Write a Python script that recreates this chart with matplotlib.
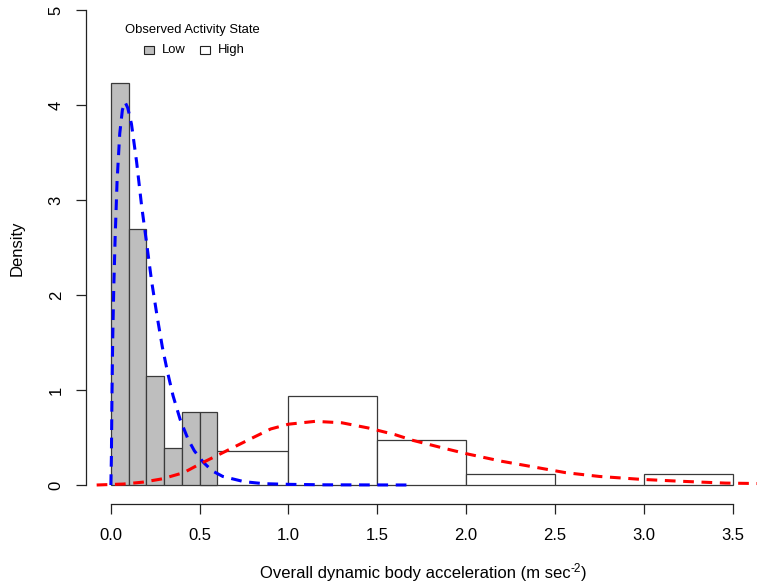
import matplotlib
matplotlib.use("Agg")
import matplotlib.pyplot as plt
from matplotlib.patches import Rectangle

plt.rcParams['font.family'] = ['Liberation Sans', 'DejaVu Sans']

# Histogram data (bin edges and densities)
low_edges = [0.0, 0.1, 0.2, 0.3, 0.4, 0.5, 0.6]
low_density = [4.23, 2.69, 1.15, 0.385, 0.77, 0.77]
high_edges = [0.5, 1.0, 1.5, 2.0, 2.5, 3.0, 3.5]
high_density = [0.353, 0.941, 0.47, 0.118, 0.0, 0.118]

# Fitted density curves
blue_x = [0.0, 0.003, 0.006, 0.010, 0.016, 0.024, 0.035, 0.05, 0.065, 0.08, 0.095,
          0.116, 0.145, 0.173, 0.201, 0.229, 0.26, 0.29, 0.32, 0.35, 0.39, 0.435,
          0.47, 0.52, 0.57, 0.63, 0.75, 0.86, 1.0, 1.2, 1.45, 1.69]
blue_y = [0.0, 0.3, 0.9, 1.5, 2.05, 2.6, 3.2, 3.7, 3.95, 4.03, 3.97,
          3.80, 3.40, 2.94, 2.55, 2.15, 1.78, 1.45, 1.18, 0.94, 0.69, 0.48,
          0.36, 0.24, 0.15, 0.09, 0.035, 0.014, 0.007, 0.002, 0.001, 0.0]
red_x = [-0.08, 0.07, 0.18, 0.29, 0.41, 0.5, 0.63, 0.78, 0.9, 1.0, 1.15, 1.3,
         1.45, 1.6, 1.7, 1.89, 2.0, 2.2, 2.38, 2.56, 2.75, 2.98, 3.2, 3.46, 3.66]
red_y = [0.0, 0.01, 0.03, 0.065, 0.13, 0.22, 0.34, 0.48, 0.59, 0.64, 0.67, 0.655,
         0.6, 0.53, 0.47, 0.38, 0.33, 0.25, 0.19, 0.13, 0.09, 0.06, 0.04, 0.02, 0.015]

x_ticks = [0.0, 0.5, 1.0, 1.5, 2.0, 2.5, 3.0, 3.5]
x_ticklabels = ["0.0", "0.5", "1.0", "1.5", "2.0", "2.5", "3.0", "3.5"]
y_ticks = [0, 1, 2, 3, 4, 5]
y_ticklabels = ["0", "1", "2", "3", "4", "5"]

W, H = 762, 585
fig = plt.figure(figsize=(W / 100, H / 100), dpi=100)
left_px, right_px, bottom_px, top_px = 86, 757.4, 504, -9
ax = fig.add_axes([left_px / W, (H - bottom_px) / H,
                   (right_px - left_px) / W, (bottom_px - top_px) / H])
ax.set_xlim(-0.14, 3.64)
ax.set_ylim(-0.2, 5.2)

edge = "#3a3a3a"
ax.bar(high_edges[:-1], high_density,
       width=[b - a for a, b in zip(high_edges[:-1], high_edges[1:])],
       align='edge', facecolor='white', edgecolor=edge, linewidth=0.9, zorder=2)
ax.bar(low_edges[:-1], low_density,
       width=[b - a for a, b in zip(low_edges[:-1], low_edges[1:])],
       align='edge', facecolor='#BEBEBE', edgecolor=edge, linewidth=0.9, zorder=3)

ax.plot(blue_x, blue_y, color='blue', lw=2.2, dashes=(3.5, 2.5), zorder=4,
        dash_capstyle='butt')
ax.plot(red_x, red_y, color='red', lw=2.2, dashes=(3.5, 2.5), zorder=4,
        dash_capstyle='butt')

for s in ['top', 'right']:
    ax.spines[s].set_visible(False)
ax.spines['left'].set_bounds(0, 5)
ax.spines['bottom'].set_bounds(0, 3.5)
for s in ['left', 'bottom']:
    ax.spines[s].set_linewidth(0.9)
    ax.spines[s].set_color('#222222')

ax.set_xticks(x_ticks)
ax.set_xticklabels(x_ticklabels)
ax.set_yticks(y_ticks)
ax.set_yticklabels(y_ticklabels, rotation=90, va='center')
ax.tick_params(axis='both', length=7, width=0.9, color='#222222', labelsize=12)
ax.tick_params(axis='x', pad=10)
ax.tick_params(axis='y', pad=9)

fig.text(17 / W, 1 - 248 / H, "Density", rotation=90, ha='center', va='center', fontsize=12)

# X axis title with a superscript built from plain text pieces
fig.canvas.draw()
renderer = fig.canvas.get_renderer()
parts = [("Overall dynamic body acceleration (m sec", 12, 0),
         ("-2", 8.5, 6),
         (")", 12, 0)]
widths = []
for txt, fs, _ in parts:
    t = fig.text(0, 0, txt, fontsize=fs)
    widths.append(t.get_window_extent(renderer).width)
    t.remove()
total = sum(widths)
x0 = 423 - total / 2
base_y = 578
for (txt, fs, dy), w in zip(parts, widths):
    fig.text(x0 / W, 1 - (base_y - dy) / H, txt, fontsize=fs, ha='left', va='baseline')
    x0 += w

# Legend
fig.text(192 / W, 1 - 30 / H, "Observed Activity State", ha='center', va='center', fontsize=9.4)
for xb, fc, lab in [(144, '#BEBEBE', 'Low'), (200, 'white', 'High')]:
    fig.patches.append(Rectangle((xb / W, 1 - 54 / H), 10 / W, 8 / H,
                                 transform=fig.transFigure, facecolor=fc,
                                 edgecolor='#222222', linewidth=0.8))
    fig.text((xb + 18) / W, 1 - 50 / H, lab, ha='left', va='center', fontsize=9.4)

fig.savefig("out.png", dpi=100)
